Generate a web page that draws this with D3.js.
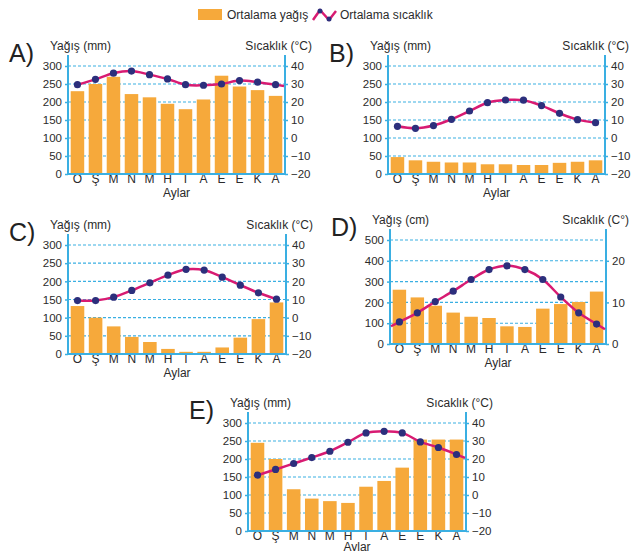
<!DOCTYPE html>
<html>
<head>
<meta charset="utf-8">
<script src="https://cdn.jsdelivr.net/npm/d3@7"></script>
<style>
  body { margin: 0; background: #fff; }
  svg { font-family: "Liberation Sans", Arial, sans-serif; }
</style>
</head>
<body>
<div id="chart"></div>
<script>
// months (Ocak .. Aralık)
const months = ['O', 'Ş', 'M', 'N', 'M', 'H', 'T', 'A', 'E', 'E', 'K', 'A'];

// precipitation / temperature per station
const rainA = [230, 250, 270, 222, 213, 195, 180, 207, 273, 243, 233, 217];
const tempA = [29.6, 32.6, 36, 37.2, 35.2, 32.8, 29.6, 29.3, 30, 31.9, 31, 29.6];

const rainB = [47, 38, 34, 32, 32, 27, 27, 25, 25, 31, 34, 38];
const tempB = [6.5, 5.4, 6.9, 10.4, 15, 19.6, 21.1, 21, 18, 13.7, 10.2, 8.5];

const rainC = [132, 100, 76, 47, 33, 14, 6, 6, 18, 45, 96, 142];
const tempC = [9.4, 9.4, 11.3, 15, 19.2, 23.4, 26.6, 26.2, 22.3, 17.9, 13.7, 10.2];

const rainD = [261, 224, 184, 151, 131, 125, 85, 82, 170, 192, 202, 252];
const tempD = [5.3, 7.5, 10.2, 12.7, 15.5, 17.9, 18.8, 17.9, 15.5, 11.3, 7.5, 4.8];

const rainE = [245, 200, 116, 90, 83, 78, 123, 139, 176, 254, 254, 254];
const tempE = [11, 14.2, 17.5, 20.8, 24.3, 29.3, 34.5, 35.4, 34.5, 29.5, 26.4, 22.5];

const legendLabels = ['Ortalama yağış', 'Ortalama sıcaklık'];

const colBar = '#f6a93b',
  colLine = '#d81b72',
  colDot = '#2c2f7c',
  colAxis = '#3aafe2',
  colText = '#2b2b2b';

const width = 631, height = 551;

const svg = d3.select('#chart')
  .append('svg')
  .attr('width', width)
  .attr('height', height);

svg.append('rect').attr('width', width).attr('height', height).attr('fill', '#fff');

// legend
const lg = svg.append('g').attr('transform', 'translate(198,0)');
lg.append('rect').attr('x', 0).attr('y', 9).attr('width', 24).attr('height', 11).attr('fill', colBar);
lg.append('text').attr('x', 29).attr('y', 19).attr('font-size', 12).attr('fill', colText).text(legendLabels[0]);
lg.append('path')
  .attr('d', 'M115,20 L122,10 L131,20 L138,11')
  .attr('fill', 'none').attr('stroke', colLine).attr('stroke-width', 2.5)
  .attr('stroke-linejoin', 'round');
lg.selectAll('circle.lg')
  .data([[122, 11], [131, 19]])
  .enter().append('circle')
  .attr('cx', d => d[0]).attr('cy', d => d[1]).attr('r', 2.5).attr('fill', colDot);
lg.append('text').attr('x', 142).attr('y', 19).attr('font-size', 12).attr('fill', colText).text(legendLabels[1]);

const panels = [
  { id: 'A', rain: rainA, temp: tempA, x0: 68, x1: 285, yTop: 66, yBot: 174,
    rainMax: 300, rainStep: 50, tDom: [-20, 40], tTicks: [-20, -10, 0, 10, 20, 30, 40],
    rt: 'Yağış (mm)', tt: 'Sıcaklık (°C)', ext: [false, true] },
  { id: 'B', rain: rainB, temp: tempB, x0: 388, x1: 605, yTop: 66, yBot: 174,
    rainMax: 300, rainStep: 50, tDom: [-20, 40], tTicks: [-20, -10, 0, 10, 20, 30, 40],
    rt: 'Yağış (mm)', tt: 'Sıcaklık (°C)', ext: [false, false] },
  { id: 'C', rain: rainC, temp: tempC, x0: 68, x1: 286, yTop: 245, yBot: 354,
    rainMax: 300, rainStep: 50, tDom: [-20, 40], tTicks: [-20, -10, 0, 10, 20, 30, 40],
    rt: 'Yağış (mm)', tt: 'Sıcaklık (°C)', ext: [false, false] },
  { id: 'D', rain: rainD, temp: tempD, x0: 390, x1: 606, yTop: 240, yBot: 344,
    rainMax: 500, rainStep: 100, tDom: [0, 25], tTicks: [0, 10, 20],
    rt: 'Yağış (cm)', tt: 'Sıcaklık (C°)', ext: [true, true] },
  { id: 'E', rain: rainE, temp: tempE, x0: 248, x1: 466, yTop: 423, yBot: 531,
    rainMax: 300, rainStep: 50, tDom: [-20, 40], tTicks: [-20, -10, 0, 10, 20, 30, 40],
    rt: 'Yağış (mm)', tt: 'Sıcaklık (°C)', ext: [false, true] }
];

panels.forEach(drawPanel);

function drawPanel(p) {
  const g = svg.append('g').attr('class', 'panel-' + p.id);

  const x = d3.scaleBand()
    .domain(d3.range(12))
    .range([p.x0, p.x1])
    .paddingInner(0.25)
    .paddingOuter(0.15);

  const yR = d3.scaleLinear().domain([0, p.rainMax]).range([p.yBot, p.yTop]);
  const yT = d3.scaleLinear().domain(p.tDom).range([p.yBot, p.yTop]);
  const rTicks = d3.range(0, p.rainMax + 1, p.rainStep);

  // grid
  g.append('g')
    .selectAll('line')
    .data(rTicks.filter(t => t > 0))
    .enter().append('line')
    .attr('x1', p.x0).attr('x2', p.x1)
    .attr('y1', d => yR(d)).attr('y2', d => yR(d))
    .attr('stroke', colAxis)
    .attr('stroke-width', 1.1)
    .attr('stroke-dasharray', '3,2');

  // bars
  g.append('g')
    .selectAll('rect')
    .data(p.rain)
    .enter().append('rect')
    .attr('x', (d, i) => x(i))
    .attr('width', x.bandwidth())
    .attr('y', d => yR(d))
    .attr('height', d => p.yBot - yR(d))
    .attr('fill', colBar);

  // axes
  const left = g.append('g')
    .attr('transform', `translate(${p.x0},0)`)
    .call(d3.axisLeft(yR).tickValues(rTicks).tickSize(3).tickPadding(3));
  const right = g.append('g')
    .attr('transform', `translate(${p.x1},0)`)
    .call(d3.axisRight(yT).tickValues(p.tTicks).tickSize(3).tickPadding(3));
  const bottom = g.append('g')
    .attr('transform', `translate(0,${p.yBot})`)
    .call(d3.axisBottom(x).tickFormat(i => months[i]).tickSize(0).tickPadding(3));

  [left, right, bottom].forEach(a => {
    a.select('.domain').remove();
    a.selectAll('line').attr('stroke', colAxis).attr('stroke-width', 1.5);
    a.selectAll('text').attr('font-size', 11.5).attr('fill', colText)
      .attr('font-family', '"Liberation Sans", Arial, sans-serif');
  });
  bottom.selectAll('text').attr('font-size', 12).attr('dy', '0.5em');

  // axis lines
  const top = p.yTop - 11;
  g.append('line').attr('x1', p.x0).attr('x2', p.x0).attr('y1', top).attr('y2', p.yBot + 1)
    .attr('stroke', colAxis).attr('stroke-width', 2);
  g.append('line').attr('x1', p.x1).attr('x2', p.x1).attr('y1', top).attr('y2', p.yBot + 1)
    .attr('stroke', colAxis).attr('stroke-width', 2);
  g.append('line').attr('x1', p.x0).attr('x2', p.x1).attr('y1', p.yBot).attr('y2', p.yBot)
    .attr('stroke', colAxis).attr('stroke-width', 2);

  // temperature curve
  const pts = p.temp.map((t, i) => [x(i) + x.bandwidth() / 2, yT(t)]);
  const path = pts.slice();
  if (p.ext[0]) {
    const a = pts[0], b = pts[1];
    const k = (b[1] - a[1]) / (b[0] - a[0]);
    path.unshift([p.x0 + 1, a[1] - k * (a[0] - p.x0 - 1)]);
  }
  if (p.ext[1]) {
    const a = pts[pts.length - 2], b = pts[pts.length - 1];
    const k = (b[1] - a[1]) / (b[0] - a[0]);
    path.push([p.x1 - 1, b[1] + k * (p.x1 - 1 - b[0])]);
  }
  g.append('path')
    .attr('d', d3.line().curve(d3.curveCatmullRom.alpha(0.5))(path))
    .attr('fill', 'none')
    .attr('stroke', colLine)
    .attr('stroke-width', 2.5);

  g.append('g')
    .selectAll('circle')
    .data(pts)
    .enter().append('circle')
    .attr('cx', d => d[0])
    .attr('cy', d => d[1])
    .attr('r', 3.6)
    .attr('fill', colDot);

  // titles
  g.append('text').attr('x', p.x0 - 18).attr('y', p.yTop - 16)
    .attr('font-size', 12).attr('fill', colText).text(p.rt);
  g.append('text').attr('x', Math.min(p.x1 + 27, 629)).attr('y', p.yTop - 16)
    .attr('text-anchor', 'end')
    .attr('font-size', 12).attr('fill', colText).text(p.tt);
  g.append('text').attr('x', p.x0 - 59).attr('y', p.yTop - 4)
    .attr('font-size', 25).attr('fill', '#222').text(p.id + ')');
  g.append('text').attr('x', (p.x0 + p.x1) / 2).attr('y', Math.min(p.yBot + 23, 550.5))
    .attr('text-anchor', 'middle')
    .attr('font-size', 12).attr('fill', colText).text('Aylar');
}
</script>
</body>
</html>
